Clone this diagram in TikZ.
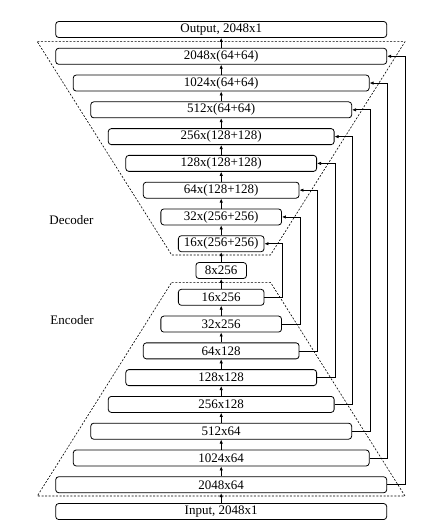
\documentclass[tikz,border=0pt]{standalone}
\usepackage{fontspec}
\setmainfont{Liberation Serif}
\usetikzlibrary{arrows.meta}
\begin{document}
\begin{tikzpicture}[x=1pt,y=-1pt,
  layer/.style={draw, line width=0.8pt, rounded corners=3pt, minimum height=16pt, inner sep=0pt, font=\fontsize{13}{15}\selectfont},
  flow/.style={line width=0.7pt, -{Latex[length=4pt,width=3.4pt]}},
  region/.style={line width=0.6pt, dash pattern=on 2pt off 1.6pt},
  lbl/.style={font=\fontsize{13}{15}\selectfont}]
\useasboundingbox (0,0) rectangle (424,529);
\def\mycx{221.2}
\def\mydy{26.78}
\def\mystepw{35.05}
% rows
\node[layer, minimum width=331pt] (out) at (\mycx,29.5) {Output, 2048x1};
\node[layer, minimum width=331pt] (d0) at (\mycx,29.5+1*\mydy) {2048x(64+64)};
\node[layer, minimum width=331pt-1*\mystepw pt] (d1) at (\mycx,29.5+2*\mydy) {1024x(64+64)};
\node[layer, minimum width=331pt-2*\mystepw pt] (d2) at (\mycx,29.5+3*\mydy) {512x(64+64)};
\node[layer, minimum width=331pt-3*\mystepw pt] (d3) at (\mycx,29.5+4*\mydy) {256x(128+128)};
\node[layer, minimum width=331pt-4*\mystepw pt] (d4) at (\mycx,29.5+5*\mydy) {128x(128+128)};
\node[layer, minimum width=331pt-5*\mystepw pt] (d5) at (\mycx,29.5+6*\mydy) {64x(128+128)};
\node[layer, minimum width=331pt-6*\mystepw pt] (d6) at (\mycx,29.5+7*\mydy) {32x(256+256)};
\node[layer, minimum width=331pt-7*\mystepw pt] (d7) at (\mycx,29.5+8*\mydy) {16x(256+256)};
\node[layer, minimum width=331pt-8*\mystepw pt] (mid) at (\mycx,29.5+9*\mydy) {8x256};
\node[layer, minimum width=331pt-7*\mystepw pt] (e7) at (\mycx,29.5+10*\mydy) {16x256};
\node[layer, minimum width=331pt-6*\mystepw pt] (e6) at (\mycx,29.5+11*\mydy) {32x256};
\node[layer, minimum width=331pt-5*\mystepw pt] (e5) at (\mycx,29.5+12*\mydy) {64x128};
\node[layer, minimum width=331pt-4*\mystepw pt] (e4) at (\mycx,29.5+13*\mydy) {128x128};
\node[layer, minimum width=331pt-3*\mystepw pt] (e3) at (\mycx,29.5+14*\mydy) {256x128};
\node[layer, minimum width=331pt-2*\mystepw pt] (e2) at (\mycx,29.5+15*\mydy) {512x64};
\node[layer, minimum width=331pt-1*\mystepw pt] (e1) at (\mycx,29.5+16*\mydy) {1024x64};
\node[layer, minimum width=331pt] (e0) at (\mycx,29.5+17*\mydy) {2048x64};
\node[layer, minimum width=331pt] (in) at (\mycx,29.5+18*\mydy) {Input, 2048x1};
% vertical flow
\foreach \a/\b in {in/e0,e0/e1,e1/e2,e2/e3,e3/e4,e4/e5,e5/e6,e6/e7,e7/mid,mid/d7,d7/d6,d6/d5,d5/d4,d4/d3,d3/d2,d2/d1,d1/d0,d0/out}
  \draw[flow] (\a.north) -- (\b.south);
% skip connections
\foreach \k in {0,...,7}
  \draw[flow] (e\k.east) -- ++(18,0) |- (d\k.east);
% regions
\draw[region] (37.3,41.7) -- (405,41.7) -- (270.5,255) -- (171.7,255) -- cycle;
\draw[region] (171.7,282.3) -- (270.5,282.3) -- (405,496) -- (37.3,496) -- cycle;
\node[lbl] (dec) at (71.5,220) {Decoder};
\node[lbl] (enc) at (72,320) {Encoder};
\end{tikzpicture}
\end{document}
